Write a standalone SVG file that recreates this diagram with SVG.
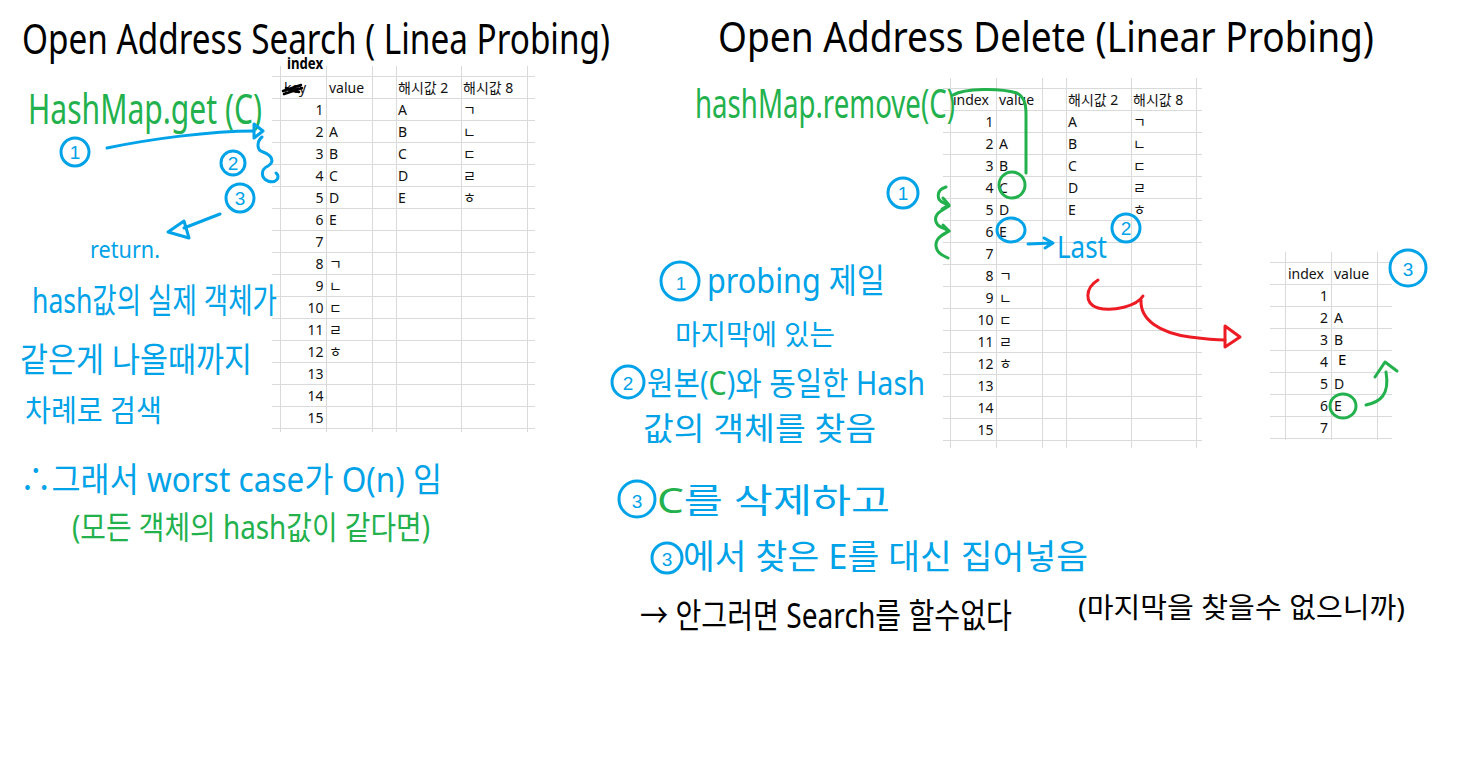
<svg xmlns="http://www.w3.org/2000/svg" width="1462" height="773" viewBox="0 0 1462 773">
<style>
.bg{fill:#fff}
.grid line{stroke:#dadada;stroke-width:1}
.cell{font-family:"Noto Sans","Noto Sans CJK KR",sans-serif;font-size:14px;fill:#111}
.num{text-anchor:end}
.hw{font-family:"Noto Sans","Noto Sans CJK KR",sans-serif}
.blk{fill:#000}
.blu{fill:#00a2e8}
.grn{fill:#22b14c}
.sb{fill:none;stroke:#00a2e8;stroke-width:3;stroke-linecap:round;stroke-linejoin:round}
.sg{fill:none;stroke:#22b14c;stroke-width:3;stroke-linecap:round;stroke-linejoin:round}
.sr{fill:none;stroke:#ed1c24;stroke-width:3;stroke-linecap:round;stroke-linejoin:round}
.sk{fill:none;stroke:#000;stroke-width:2.5;stroke-linecap:round}
.cn{font-family:"Liberation Sans",sans-serif;font-size:19px;fill:#00a2e8;text-anchor:middle}
</style>
<rect class="bg" x="0" y="0" width="1462" height="773"/>

<g id="title-search">
<text class="hw blk" x="22" y="54" font-size="42" textLength="588" lengthAdjust="spacingAndGlyphs">Open Address Search ( Linea Probing)</text>
</g>
<g id="title-delete">
<text class="hw blk" x="718" y="52" font-size="42" textLength="656" lengthAdjust="spacingAndGlyphs">Open Address Delete (Linear Probing)</text>
</g>

<g id="table-search">
<g class="grid">
<line x1="272" y1="76.5" x2="535" y2="76.5"/><line x1="272" y1="98.5" x2="535" y2="98.5"/><line x1="272" y1="120.5" x2="535" y2="120.5"/><line x1="272" y1="142.5" x2="535" y2="142.5"/><line x1="272" y1="164.5" x2="535" y2="164.5"/><line x1="272" y1="186.5" x2="535" y2="186.5"/><line x1="272" y1="208.5" x2="535" y2="208.5"/><line x1="272" y1="230.5" x2="535" y2="230.5"/><line x1="272" y1="252.5" x2="535" y2="252.5"/><line x1="272" y1="274.5" x2="535" y2="274.5"/><line x1="272" y1="296.5" x2="535" y2="296.5"/><line x1="272" y1="318.5" x2="535" y2="318.5"/><line x1="272" y1="340.5" x2="535" y2="340.5"/><line x1="272" y1="362.5" x2="535" y2="362.5"/><line x1="272" y1="384.5" x2="535" y2="384.5"/><line x1="272" y1="406.5" x2="535" y2="406.5"/><line x1="272" y1="428.5" x2="535" y2="428.5"/>
<line x1="280.5" y1="66" x2="280.5" y2="432"/><line x1="326.5" y1="66" x2="326.5" y2="432"/><line x1="372.5" y1="66" x2="372.5" y2="432"/><line x1="396.5" y1="66" x2="396.5" y2="432"/><line x1="461.5" y1="66" x2="461.5" y2="432"/><line x1="527.5" y1="66" x2="527.5" y2="432"/>
</g>
<text class="cell" x="284" y="93">key</text>
<path class="sk" d="M283,91 L301,85 M284,94 L302,88 M286,88 L299,92"/>
<text class="hw blk" x="287" y="69" font-size="16" style="font-weight:700" textLength="36" lengthAdjust="spacingAndGlyphs">index</text>
<text class="cell" x="329" y="93">value</text>
<text class="cell" x="398" y="93">해시값 2</text>
<text class="cell" x="463" y="93">해시값 8</text>
<g class="cell num">
<text x="323.5" y="114.5">1</text><text x="323.5" y="136.5">2</text><text x="323.5" y="158.5">3</text><text x="323.5" y="180.5">4</text><text x="323.5" y="202.5">5</text><text x="323.5" y="224.5">6</text><text x="323.5" y="246.5">7</text><text x="323.5" y="268.5">8</text><text x="323.5" y="290.5">9</text><text x="323.5" y="312.5">10</text><text x="323.5" y="334.5">11</text><text x="323.5" y="356.5">12</text><text x="323.5" y="378.5">13</text><text x="323.5" y="400.5">14</text><text x="323.5" y="422.5">15</text>
</g>
<g class="cell">
<text x="329" y="136.5">A</text><text x="329" y="158.5">B</text><text x="329" y="180.5">C</text><text x="329" y="202.5">D</text><text x="329" y="224.5">E</text>
<text x="329" y="268.5">ㄱ</text><text x="329" y="290.5">ㄴ</text><text x="329" y="312.5">ㄷ</text><text x="329" y="334.5">ㄹ</text><text x="329" y="356.5">ㅎ</text>
<text x="398" y="114.5">A</text><text x="398" y="136.5">B</text><text x="398" y="158.5">C</text><text x="398" y="180.5">D</text><text x="398" y="202.5">E</text>
<text x="463" y="114.5">ㄱ</text><text x="463" y="136.5">ㄴ</text><text x="463" y="158.5">ㄷ</text><text x="463" y="180.5">ㄹ</text><text x="463" y="202.5">ㅎ</text>
</g>
</g>

<g id="table-delete">
<g class="grid">
<line x1="943" y1="88.5" x2="1202" y2="88.5"/><line x1="943" y1="110.5" x2="1202" y2="110.5"/><line x1="943" y1="132.5" x2="1202" y2="132.5"/><line x1="943" y1="154.5" x2="1202" y2="154.5"/><line x1="943" y1="176.5" x2="1202" y2="176.5"/><line x1="943" y1="198.5" x2="1202" y2="198.5"/><line x1="943" y1="220.5" x2="1202" y2="220.5"/><line x1="943" y1="242.5" x2="1202" y2="242.5"/><line x1="943" y1="264.5" x2="1202" y2="264.5"/><line x1="943" y1="286.5" x2="1202" y2="286.5"/><line x1="943" y1="308.5" x2="1202" y2="308.5"/><line x1="943" y1="330.5" x2="1202" y2="330.5"/><line x1="943" y1="352.5" x2="1202" y2="352.5"/><line x1="943" y1="374.5" x2="1202" y2="374.5"/><line x1="943" y1="396.5" x2="1202" y2="396.5"/><line x1="943" y1="418.5" x2="1202" y2="418.5"/><line x1="943" y1="440.5" x2="1202" y2="440.5"/>
<line x1="950.5" y1="78" x2="950.5" y2="448"/><line x1="996.5" y1="78" x2="996.5" y2="448"/><line x1="1042.5" y1="78" x2="1042.5" y2="448"/><line x1="1066.5" y1="78" x2="1066.5" y2="448"/><line x1="1131.5" y1="78" x2="1131.5" y2="448"/><line x1="1196.5" y1="78" x2="1196.5" y2="448"/>
</g>
<text class="cell" x="953" y="105">index</text>
<text class="cell" x="999" y="105">value</text>
<text class="cell" x="1068" y="105">해시값 2</text>
<text class="cell" x="1133" y="105">해시값 8</text>
<g class="cell num">
<text x="993.5" y="126.5">1</text><text x="993.5" y="148.5">2</text><text x="993.5" y="170.5">3</text><text x="993.5" y="192.5">4</text><text x="993.5" y="214.5">5</text><text x="993.5" y="236.5">6</text><text x="993.5" y="258.5">7</text><text x="993.5" y="280.5">8</text><text x="993.5" y="302.5">9</text><text x="993.5" y="324.5">10</text><text x="993.5" y="346.5">11</text><text x="993.5" y="368.5">12</text><text x="993.5" y="390.5">13</text><text x="993.5" y="412.5">14</text><text x="993.5" y="434.5">15</text>
</g>
<g class="cell">
<text x="999" y="148.5">A</text><text x="999" y="170.5">B</text><text x="999" y="192.5">C</text><text x="999" y="214.5">D</text><text x="999" y="236.5">E</text>
<text x="999" y="280.5">ㄱ</text><text x="999" y="302.5">ㄴ</text><text x="999" y="324.5">ㄷ</text><text x="999" y="346.5">ㄹ</text><text x="999" y="368.5">ㅎ</text>
<text x="1068" y="126.5">A</text><text x="1068" y="148.5">B</text><text x="1068" y="170.5">C</text><text x="1068" y="192.5">D</text><text x="1068" y="214.5">E</text>
<text x="1133" y="126.5">ㄱ</text><text x="1133" y="148.5">ㄴ</text><text x="1133" y="170.5">ㄷ</text><text x="1133" y="192.5">ㄹ</text><text x="1133" y="214.5">ㅎ</text>
</g>
</g>

<g id="table-result">
<g class="grid">
<line x1="1270" y1="262.5" x2="1392" y2="262.5"/><line x1="1270" y1="284.5" x2="1392" y2="284.5"/><line x1="1270" y1="306.5" x2="1392" y2="306.5"/><line x1="1270" y1="328.5" x2="1392" y2="328.5"/><line x1="1270" y1="350.5" x2="1392" y2="350.5"/><line x1="1270" y1="372.5" x2="1392" y2="372.5"/><line x1="1270" y1="394.5" x2="1392" y2="394.5"/><line x1="1270" y1="416.5" x2="1392" y2="416.5"/><line x1="1270" y1="438.5" x2="1392" y2="438.5"/>
<line x1="1285.5" y1="252" x2="1285.5" y2="440"/><line x1="1331.5" y1="252" x2="1331.5" y2="440"/><line x1="1377.5" y1="252" x2="1377.5" y2="440"/>
</g>
<text class="cell" x="1288" y="279">index</text>
<text class="cell" x="1334" y="279">value</text>
<g class="cell num">
<text x="1328" y="300.5">1</text><text x="1328" y="322.5">2</text><text x="1328" y="344.5">3</text><text x="1328" y="366.5">4</text><text x="1328" y="388.5">5</text><text x="1328" y="410.5">6</text><text x="1328" y="432.5">7</text>
</g>
<g class="cell">
<text x="1334" y="322.5">A</text><text x="1334" y="344.5">B</text><text x="1334" y="388.5">D</text><text x="1334" y="410.5">E</text>
</g>
<text class="hw blk" x="1338" y="365" font-size="15">E</text>
</g>

<g id="notes-search">
<text class="hw grn" x="28" y="124" font-size="42" textLength="234" lengthAdjust="spacingAndGlyphs">HashMap.get (C)</text>
<text class="hw blu" x="90" y="258" font-size="24" textLength="70" lengthAdjust="spacingAndGlyphs">return.</text>
<text class="hw blu" x="32" y="313" font-size="34" textLength="245" lengthAdjust="spacingAndGlyphs">hash값의 실제 객체가</text>
<text class="hw blu" x="20" y="372" font-size="34" textLength="232" lengthAdjust="spacingAndGlyphs">같은게 나올때까지</text>
<text class="hw blu" x="25" y="421" font-size="30" textLength="137" lengthAdjust="spacingAndGlyphs">차례로 검색</text>
<text class="hw blu" x="20" y="492" font-size="34" textLength="422" lengthAdjust="spacingAndGlyphs">∴그래서 worst case가  O(n) 임</text>
<text class="hw grn" x="72" y="539" font-size="32" textLength="358" lengthAdjust="spacingAndGlyphs">(모든 객체의 hash값이 같다면)</text>
</g>

<g id="notes-delete">
<text class="hw grn" x="695" y="118" font-size="40" textLength="260" lengthAdjust="spacingAndGlyphs">hashMap.remove(C)</text>
<text class="hw blu" x="1057" y="258" font-size="30" textLength="50" lengthAdjust="spacingAndGlyphs">Last</text>
<text class="hw blu" x="707" y="293" font-size="34" textLength="178" lengthAdjust="spacingAndGlyphs">probing 제일</text>
<text class="hw blu" x="675" y="345" font-size="28" textLength="160" lengthAdjust="spacingAndGlyphs">마지막에 있는</text>
<text class="hw blu" x="647" y="395" font-size="32" textLength="278" lengthAdjust="spacingAndGlyphs">원본(<tspan class="grn">C</tspan>)와 동일한 Hash</text>
<text class="hw blu" x="643" y="440" font-size="32" textLength="233" lengthAdjust="spacingAndGlyphs">값의 객체를 찾음</text>
<text class="hw blu" x="657" y="513" font-size="34" textLength="233" lengthAdjust="spacingAndGlyphs"><tspan class="grn">C</tspan>를 삭제하고</text>
<text class="hw blu" x="683" y="569" font-size="34" textLength="405" lengthAdjust="spacingAndGlyphs">에서 찾은 E를 대신 집어넣음</text>
<text class="hw blk" x="640" y="628" font-size="34" textLength="372" lengthAdjust="spacingAndGlyphs">→ 안그러면 Search를 할수없다</text>
<text class="hw blk" x="1078" y="618" font-size="28" textLength="327" lengthAdjust="spacingAndGlyphs">(마지막을 찾을수 없으니까)</text>
</g>

<g id="step-markers">
<circle class="sb" cx="75" cy="152" r="14"/><text class="cn" x="75" y="159">1</text>
<circle class="sb" cx="233" cy="163" r="12"/><text class="cn" x="233" y="170" font-size="17">2</text>
<circle class="sb" cx="240" cy="198" r="14"/><text class="cn" x="240" y="205">3</text>
<circle class="sb" cx="903" cy="193" r="15"/><text class="cn" x="903" y="200">1</text>
<circle class="sb" cx="1126" cy="228" r="14"/><text class="cn" x="1126" y="235">2</text>
<circle class="sb" cx="1408" cy="268" r="18"/><text class="cn" x="1408" y="276" font-size="22">3</text>
<circle class="sb" cx="680" cy="281" r="19"/><text class="cn" x="681" y="290" font-size="24">1</text>
<circle class="sb" cx="628" cy="382" r="16"/><text class="cn" x="628" y="390" font-size="22">2</text>
<circle class="sb" cx="637" cy="499" r="18"/><text class="cn" x="637" y="508" font-size="24">3</text>
<circle class="sb" cx="667" cy="558" r="15"/><text class="cn" x="667" y="566" font-size="22">3</text>
</g>

<g id="connectors">
<path class="sb" d="M107,148 C150,139 210,131 254,131"/>
<polygon class="sb" points="254,124 263,131 254,138"/>
<path class="sb" d="M262,137 C257,141 256,150 263,152 C272,155 275,162 268,166 C260,170 261,178 268,181 C276,184 281,177 276,173"/>
<path class="sb" d="M220,214 L184,228"/>
<polygon class="sb" points="168,232 184,221 189,238"/>
<path class="sg" d="M953,95 C965,88 1000,88 1017,93 C1026,98 1026,108 1026,115 L1026,173"/>
<ellipse class="sg" cx="1012" cy="185" rx="13" ry="13"/>
<path class="sg" d="M946,187 C936,190 936,200 944,203 L949,206 L941,211 C933,216 934,225 943,228 L949,231 L941,236 C933,242 935,252 944,256 L948,258"/>
<path class="sg" d="M943,198 L949,205 L942,209 M943,225 L949,231 L942,235"/>
<ellipse class="sb" cx="1011" cy="230" rx="14" ry="12"/>
<path class="sb" d="M1028,244 L1052,243 M1044,238 L1053,243 L1045,248"/>
<path class="sr" d="M1098,280 C1085,288 1084,304 1098,308 C1113,312 1137,306 1143,296 M1141,300 C1140,320 1160,333 1190,337 C1205,339 1215,340 1225,340"/>
<polygon class="sr" points="1225,326 1240,337 1225,347"/>
<ellipse class="sg" cx="1343" cy="406" rx="13" ry="12"/>
<path class="sg" d="M1366,405 C1380,402 1390,395 1386,372 M1375,377 L1385,362 L1397,371"/>
</g>
</svg>
